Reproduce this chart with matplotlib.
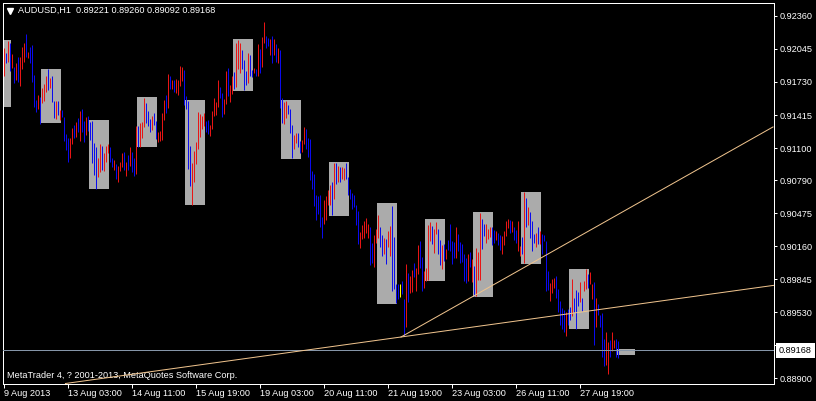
import matplotlib
matplotlib.use('Agg')
import matplotlib.pyplot as plt
from matplotlib.patches import Rectangle
from matplotlib.transforms import blended_transform_factory

# AUDUSD H1 bars (index 0 = first visible bar)
highs = [
    0.92058, 0.92007, 0.92125, 0.92105, 0.91998, 0.91871, 0.91912, 0.91969, 0.91969, 0.92064,
    0.92103, 0.92188, 0.92017, 0.92064, 0.92083, 0.91797, 0.91559, 0.91606, 0.91590, 0.91676,
    0.91711, 0.91788, 0.91854, 0.91769, 0.91788, 0.91549, 0.91549, 0.91549, 0.91463, 0.91463,
    0.91396, 0.91234, 0.91196, 0.91199, 0.91294, 0.91320, 0.91349, 0.91390, 0.91454, 0.91470,
    0.91361, 0.91399, 0.91403, 0.91351, 0.91358, 0.91151, 0.91110, 0.91008, 0.91139, 0.91119,
    0.91053, 0.91122, 0.91139, 0.91113, 0.91008, 0.90989, 0.90950, 0.90929, 0.90970, 0.91053,
    0.91062, 0.90967, 0.91034, 0.91110, 0.91062, 0.91002, 0.91310, 0.91310, 0.91339, 0.91349,
    0.91578, 0.91530, 0.91451, 0.91377, 0.91406, 0.91434, 0.91358, 0.91250, 0.91263, 0.91437,
    0.91559, 0.91606, 0.91807, 0.91788, 0.91749, 0.91749, 0.91759, 0.91749, 0.91883, 0.91874,
    0.91845, 0.91597, 0.91549, 0.91119, 0.90957, 0.91072, 0.91158, 0.91444, 0.91425, 0.91406,
    0.91434, 0.91358, 0.91365, 0.91320, 0.91454, 0.91578, 0.91537, 0.91749, 0.91685, 0.91625,
    0.91568, 0.91835, 0.91864, 0.91702, 0.91788, 0.91826, 0.92103, 0.92131, 0.92103, 0.92036,
    0.91940, 0.91835, 0.92007, 0.91988, 0.91845, 0.91864, 0.91854, 0.92093, 0.92045, 0.92160,
    0.92303, 0.92169, 0.92150, 0.92141, 0.92169, 0.92141, 0.92093, 0.92055, 0.92036, 0.91578,
    0.91539, 0.91549, 0.91511, 0.91473, 0.91320, 0.91224, 0.91244, 0.91244, 0.91167, 0.91177,
    0.91301, 0.91282, 0.91196, 0.91186, 0.90881, 0.90852, 0.90652, 0.90642, 0.90652, 0.90442,
    0.90604, 0.90642, 0.90699, 0.90747, 0.90776, 0.90957, 0.90957, 0.90929, 0.90919, 0.90919,
    0.90909, 0.90957, 0.90824, 0.90709, 0.90671, 0.90652, 0.90556, 0.90499, 0.90299, 0.90365,
    0.90404, 0.90432, 0.90375, 0.90346, 0.90194, 0.90270, 0.90327, 0.90461, 0.90346, 0.90270,
    0.90241, 0.90232, 0.90308, 0.90356, 0.90547, 0.90251, 0.89802, 0.89802, 0.89802, 0.89831,
    0.89659, 0.89993, 0.89907, 0.89879, 0.89936, 0.90003, 0.89955, 0.90175, 0.90213, 0.90060,
    0.89926, 0.89955, 0.90365, 0.90394, 0.90356, 0.90327, 0.90394, 0.90327, 0.90222, 0.90175,
    0.90184, 0.90136, 0.90222, 0.90375, 0.90213, 0.90203, 0.90346, 0.90279, 0.90203, 0.90184,
    0.90089, 0.90050, 0.90089, 0.90108, 0.90041, 0.89974, 0.90146, 0.90108, 0.90480, 0.90423,
    0.90375, 0.90375, 0.90327, 0.90346, 0.90346, 0.90318, 0.90308, 0.90289, 0.90270, 0.90260,
    0.90308, 0.90404, 0.90423, 0.90413, 0.90404, 0.90346, 0.90318, 0.90404, 0.90165, 0.90251,
    0.90680, 0.90623, 0.90537, 0.90490, 0.90404, 0.90279, 0.90289, 0.90346, 0.90308, 0.90279,
    0.90270, 0.90213, 0.89926, 0.89812, 0.89850, 0.89860, 0.89879, 0.89754, 0.89640, 0.89573,
    0.89554, 0.89535, 0.89564, 0.89583, 0.89850, 0.89669, 0.89745, 0.89726, 0.89821, 0.89669,
    0.89831, 0.89945, 0.89898, 0.89917, 0.89802, 0.89821, 0.89669, 0.89611, 0.89506, 0.89525,
    0.89277, 0.89344, 0.89249, 0.89268, 0.89344, 0.89268, 0.89277, 0.89260,
]
lows = [
    0.91788, 0.91915, 0.91924, 0.91835, 0.91867, 0.91724, 0.91749, 0.91733, 0.91692, 0.91857,
    0.91924, 0.91966, 0.91962, 0.91909, 0.91733, 0.91495, 0.91447, 0.91470, 0.91327, 0.91527,
    0.91552, 0.91638, 0.91651, 0.91676, 0.91537, 0.91390, 0.91380, 0.91415, 0.91365, 0.91399,
    0.91170, 0.91084, 0.90970, 0.91002, 0.91139, 0.91193, 0.91208, 0.91250, 0.91170, 0.91253,
    0.91161, 0.91224, 0.91263, 0.91177, 0.90960, 0.90843, 0.90712, 0.90826, 0.90874, 0.90890,
    0.90884, 0.90970, 0.91056, 0.90970, 0.90916, 0.90893, 0.90802, 0.90779, 0.90884, 0.90916,
    0.90886, 0.90833, 0.90890, 0.90931, 0.90871, 0.90836, 0.90855, 0.91113, 0.91113, 0.91199,
    0.91298, 0.91342, 0.91310, 0.91256, 0.91269, 0.91320, 0.91189, 0.91161, 0.91167, 0.91180,
    0.91365, 0.91437, 0.91485, 0.91664, 0.91664, 0.91638, 0.91623, 0.91606, 0.91695, 0.91743,
    0.91511, 0.91470, 0.90900, 0.90738, 0.90556, 0.90779, 0.90948, 0.91091, 0.91208, 0.91282,
    0.91310, 0.91256, 0.91237, 0.91218, 0.91285, 0.91409, 0.91415, 0.91495, 0.91575, 0.91393,
    0.91425, 0.91523, 0.91600, 0.91542, 0.91619, 0.91664, 0.91685, 0.91857, 0.91819, 0.91857,
    0.91654, 0.91705, 0.91721, 0.91788, 0.91778, 0.91816, 0.91790, 0.91790, 0.91816, 0.91874,
    0.92103, 0.92055, 0.92074, 0.91988, 0.91912, 0.91988, 0.91921, 0.91912, 0.91482, 0.91339,
    0.91329, 0.91387, 0.91425, 0.91244, 0.91005, 0.91091, 0.91148, 0.91110, 0.91053, 0.91062,
    0.91139, 0.91091, 0.91014, 0.90795, 0.90709, 0.90547, 0.90413, 0.90470, 0.90346, 0.90241,
    0.90375, 0.90413, 0.90556, 0.90556, 0.90461, 0.90614, 0.90757, 0.90776, 0.90776, 0.90804,
    0.90795, 0.90804, 0.90652, 0.90614, 0.90518, 0.90537, 0.90365, 0.90184, 0.90146, 0.90232,
    0.90241, 0.90289, 0.90241, 0.89984, 0.90003, 0.89965, 0.90194, 0.90241, 0.90155, 0.90070,
    0.90089, 0.89993, 0.90155, 0.90070, 0.89735, 0.89754, 0.89621, 0.89659, 0.89678, 0.89707,
    0.89306, 0.89392, 0.89630, 0.89716, 0.89726, 0.89869, 0.89735, 0.89898, 0.89955, 0.89735,
    0.89764, 0.89831, 0.89840, 0.90213, 0.90184, 0.90098, 0.90279, 0.90089, 0.89984, 0.89945,
    0.90022, 0.90041, 0.90127, 0.90117, 0.89993, 0.90050, 0.90050, 0.90117, 0.90003, 0.90012,
    0.89831, 0.89812, 0.89831, 0.89965, 0.89821, 0.89688, 0.89688, 0.89840, 0.89840, 0.90136,
    0.90260, 0.90194, 0.90232, 0.90251, 0.90175, 0.90194, 0.90222, 0.90175, 0.90127, 0.90089,
    0.90175, 0.90260, 0.90337, 0.90289, 0.90299, 0.90222, 0.90194, 0.90117, 0.90070, 0.90089,
    0.90003, 0.90346, 0.90365, 0.90241, 0.90117, 0.90194, 0.90155, 0.90184, 0.90184, 0.90089,
    0.90213, 0.89735, 0.89745, 0.89640, 0.89716, 0.89764, 0.89669, 0.89535, 0.89411, 0.89373,
    0.89344, 0.89306, 0.89411, 0.89459, 0.89497, 0.89535, 0.89373, 0.89592, 0.89630, 0.89545,
    0.89735, 0.89754, 0.89764, 0.89802, 0.89659, 0.89220, 0.89392, 0.89506, 0.89392, 0.89105,
    0.89020, 0.89029, 0.88943, 0.89105, 0.89163, 0.89191, 0.89105, 0.89092,
]
# R = up bar, B = down bar, Y = unchanged
directions = (
    "RBRBRBRBRR" "RBRBBBBRBR" "RRBRBBRBRB"
    "BBBRRBRBRB" "BRBBBBBRRB" "RRRBBRBRRR"
    "BRBRBBRBRR" "RBBBRBBRRR" "RBRBRBRRRR"
    "BBBBRRRRRR" "RBBRRRRRBB" "RRBRRBRRRB"
    "BBRBBRBRBR" "RBBRBRBRBB" "RRBBBRRBBR"
    "RBBBBBBBBB" "RRRRBRBRBR" "RBBBBBBBRR"
    "RRRBBRRRBB" "RBRRBBBBYB" "BRBRRBRRBB"
    "RRRRBRRBBR" "BRBBBBRBBB" "BBRBRBRRRB"
    "BRRRBBRBBR" "RRRBRBBRRB" "RBRBBBRBRB"
    "BBBRRRBBBB" "BRBBRBBBRB" "RRBRRBRBBB"
    "BRRBRRBB"
)

# daily range boxes (first bar, last bar, top, bottom)
box_first = [0, 19, 43, 67, 91, 115, 139, 163, 187, 211, 235, 259, 283, 307]
box_last = [3, 28, 52, 76, 100, 124, 148, 172, 196, 220, 244, 268, 292, 315]
box_top = [0.92131, 0.91854, 0.91368, 0.91587, 0.91559, 0.92141, 0.91559,
           0.90967, 0.90575, 0.90423, 0.90490, 0.90680, 0.89945, 0.89182]
box_bottom = [0.91495, 0.91342, 0.90712, 0.91113, 0.90556, 0.91647, 0.90998,
              0.90454, 0.89614, 0.89834, 0.89681, 0.89993, 0.89373, 0.89124]

# trend lines (bar, price)
trend1_x = [198.75, 384.75]
trend1_y = [0.89296, 0.91301]
trend2_x = [198.75, 384.75]
trend2_y = [0.89296, 0.89788]

bid = 0.89168
title = "AUDUSD,H1  0.89221 0.89260 0.89092 0.89168"
footer = "MetaTrader 4, ? 2001-2013, MetaQuotes Software Corp."

time_ticks = [0, 32, 64, 96, 128, 160, 192, 224, 256, 288]
time_labels = ['9 Aug 2013', '13 Aug 03:00', '14 Aug 11:00', '15 Aug 19:00',
               '19 Aug 03:00', '20 Aug 11:00', '21 Aug 19:00', '23 Aug 03:00',
               '26 Aug 11:00', '27 Aug 19:00']
price_ticks = [0.92360, 0.92045, 0.91730, 0.91415, 0.91100, 0.90790,
               0.90475, 0.90160, 0.89845, 0.89530, 0.89215, 0.88900]

plt.rcParams['font.family'] = ['Liberation Sans', 'DejaVu Sans']
plt.rcParams['font.size'] = 6.6

W, H = 816, 401
fig = plt.figure(figsize=(W / 100, H / 100), dpi=100, facecolor='black')
ax = fig.add_axes([2.5 / W, (H - 383.5) / H, 771 / W, 381 / H])
ax.set_facecolor('black')
px = 0.72  # one pixel in points

colmap = {'R': '#e81414', 'B': '#0a0aee', 'Y': '#ffff00'}
cols = [colmap[c] for c in directions]

for b0, b1, top, bot in zip(box_first, box_last, box_top, box_bottom):
    ax.add_patch(Rectangle((b0 - 0.25, bot), b1 - b0 + 1, top - bot,
                           facecolor='#ababab', edgecolor='none', zorder=1))

ax.vlines(range(len(highs)), lows, highs, colors=cols, linewidth=px, zorder=2)

ax.axhline(bid, color='#8595a8', linewidth=px, zorder=3)
tan = '#f0c48e'
ax.plot(trend1_x, trend1_y, color=tan, linewidth=px, zorder=4)
ax.axline((trend2_x[0], trend2_y[0]), (trend2_x[1], trend2_y[1]),
          color=tan, linewidth=px, zorder=4)

ax.set_xlim(-0.5, 385.0)
ax.set_ylim(0.888522, 0.924888)

for sp in ax.spines.values():
    sp.set_color('white')
    sp.set_linewidth(px)

ax.yaxis.tick_right()
ax.set_yticks(price_ticks)
ax.set_yticklabels(['%.5f' % p for p in price_ticks])
ax.tick_params(axis='y', colors='white', length=3 * px, width=px, pad=3 * px)
ax.set_xticks(time_ticks)
ax.set_xticklabels(time_labels)
ax.tick_params(axis='x', colors='white', length=4 * px, width=px, pad=1 * px)
for lab in ax.get_xticklabels():
    lab.set_horizontalalignment('left')

ax.plot([0.0091], [0.979], marker='v', markersize=4.5, color='white',
        transform=ax.transAxes, clip_on=False)
ax.text(0.0197, 0.979, title, color='white', transform=ax.transAxes,
        va='center', ha='left')
ax.text(0.0054, 0.0205, footer, color='white', transform=ax.transAxes,
        va='center', ha='left')

trans = blended_transform_factory(ax.transAxes, ax.transData)
ax.text((779 - 2.5) / 771, bid, '%.5f' % bid, color='black', transform=trans,
        va='center', ha='left', zorder=10, clip_on=False,
        bbox=dict(boxstyle='square,pad=0.32', facecolor='white', edgecolor='none'))

fig.savefig('out.png', dpi=100, facecolor='black')
